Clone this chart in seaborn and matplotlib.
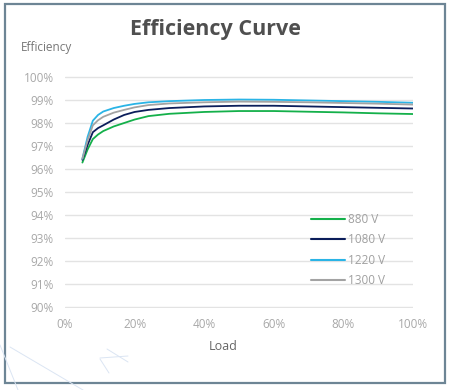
import matplotlib
matplotlib.use("Agg")
import matplotlib.pyplot as plt
from matplotlib.lines import Line2D
from matplotlib.patches import Rectangle
import seaborn as sns
import pandas as pd

# ---- data ----
load = [5, 6.5, 8, 9.5, 11, 14, 17, 20, 24, 30, 40, 50, 60, 70, 80, 90, 100]
eff_880 = [96.28, 96.85, 97.30, 97.50, 97.65, 97.85, 98.00, 98.15, 98.30, 98.40, 98.48, 98.52, 98.52, 98.49, 98.46, 98.42, 98.39]
eff_1080 = [96.40, 97.05, 97.60, 97.78, 97.90, 98.15, 98.35, 98.48, 98.57, 98.65, 98.72, 98.75, 98.75, 98.72, 98.69, 98.66, 98.63]
eff_1220 = [96.45, 97.40, 98.10, 98.35, 98.50, 98.65, 98.75, 98.83, 98.90, 98.95, 99.00, 99.02, 99.01, 98.98, 98.95, 98.92, 98.88]
eff_1300 = [96.45, 97.25, 97.90, 98.12, 98.27, 98.45, 98.57, 98.68, 98.78, 98.85, 98.90, 98.93, 98.92, 98.90, 98.87, 98.84, 98.80]
series_names = ["880 V", "1080 V", "1220 V", "1300 V"]
colors = ["#14b04a", "#0b1d5a", "#2ab4e6", "#a3a3a3"]
y_ticks = [90, 91, 92, 93, 94, 95, 96, 97, 98, 99, 100]
x_ticks = [0, 20, 40, 60, 80, 100]

rows = []
for name, vals in zip(series_names, [eff_880, eff_1080, eff_1220, eff_1300]):
    for l, v in zip(load, vals):
        rows.append({"Load": l, "Efficiency": v, "Voltage": name})
df = pd.DataFrame(rows)

sns.set_theme(style="white")
plt.rcParams["font.family"] = ["Open Sans", "DejaVu Sans"]

W, H = 450, 390
fig = plt.figure(figsize=(4.5, 3.9), dpi=100)
fig.patch.set_facecolor("white")

ext = 0.06
px_per = 23.0
top_px = 77 - ext * px_per
bot_px = 307 + ext * px_per
ax = fig.add_axes([65 / W, 1 - bot_px / H, (413 - 65) / W, (bot_px - top_px) / H])
ax.set_facecolor("none")

sns.lineplot(data=df, x="Load", y="Efficiency", hue="Voltage", hue_order=series_names,
             palette=colors, linewidth=1.3, ax=ax, legend=False)

ax.set_xlim(0, 100)
ax.set_ylim(90 - ext, 100 + ext)
ax.set_yticks(y_ticks)
ax.set_yticklabels([f"{t}%" for t in y_ticks])
ax.set_xticks(x_ticks)
ax.set_xticklabels([f"{t}%" for t in x_ticks])
ax.yaxis.grid(True, color="#e3e3e3", linewidth=1.0)
ax.xaxis.grid(False)
ax.set_axisbelow(True)
for s in ax.spines.values():
    s.set_visible(False)
ax.tick_params(axis="both", length=0, labelsize=8.5, labelcolor="#a8a8a8")
ax.tick_params(axis="y", pad=8)
ax.tick_params(axis="x", pad=7)
ax.set_xlabel("")
ax.set_ylabel("")

# legend
handles = [Line2D([0], [0], color=c, linewidth=1.5) for c in colors]
leg = fig.legend(handles, series_names, loc="upper left",
                 bbox_to_anchor=(311 / W, 1 - 213 / H), frameon=False,
                 borderpad=0, borderaxespad=0, handlelength=2.9, handletextpad=0.25,
                 labelspacing=0.62, fontsize=8.5)
for t in leg.get_texts():
    t.set_color("#a0a0a0")

# texts
fig.text(215 / W, 1 - 29 / H, "Efficiency Curve", ha="center", va="center",
         fontsize=15.5, fontweight="bold", color="#4f4f4f")
fig.text(21 / W, 1 - 48 / H, "Efficiency", ha="left", va="center",
         fontsize=8.5, color="#777777")
fig.text(223 / W, 1 - 347 / H, "Load", ha="center", va="center",
         fontsize=9, color="#666666")

# frame
fig.add_artist(Rectangle((5 / W, 1 - 383 / H), (445 - 5) / W, (383 - 4) / H,
                         transform=fig.transFigure, fill=False,
                         edgecolor="#6d8595", linewidth=1.6))

# faint decorative strokes
deco = [((0, 345), (18, 390)), ((10, 347), (83, 390)),
        ((107, 349), (128, 362)), ((100, 358), (128, 356)), ((100, 359), (109, 373))]
for (x0, y0), (x1, y1) in deco:
    fig.add_artist(Line2D([x0 / W, x1 / W], [1 - y0 / H, 1 - y1 / H],
                          transform=fig.transFigure, color="#dbe5f3", linewidth=0.7))

fig.savefig("out.png", dpi=100)
